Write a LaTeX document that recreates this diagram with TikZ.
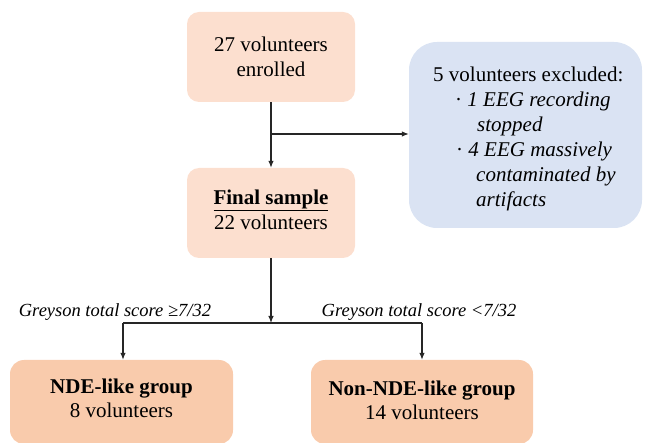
\documentclass[tikz,border=0pt]{standalone}
\usepackage{fontspec}
\setmainfont{Liberation Serif}
\usetikzlibrary{arrows.meta}
\definecolor{peachlight}{HTML}{FCDFCF}
\definecolor{peach}{HTML}{F9CBAC}
\definecolor{paleblue}{HTML}{DAE3F3}
\tikzset{
  x=1pt,y=-1pt,
  box/.style={fill=peachlight, draw=none, rounded corners=12pt, align=center, inner sep=0pt},
  groupbox/.style={fill=peach, draw=none, rounded corners=14pt, inner sep=0pt},
  exbox/.style={fill=paleblue, draw=none, rounded corners=28pt, inner sep=0pt},
  exline/.style={anchor=base west, inner sep=0pt, font=\fontsize{21}{25}\selectfont},
  grouptext/.style={inner sep=0pt, align=center, font=\fontsize{21}{24.5}\selectfont},
  conn/.style={draw=black!85, line width=1.1pt},
  arr/.style={conn, -{Latex[length=7pt,width=5.5pt]}},
  crit/.style={font=\fontsize{18.5}{22}\selectfont\itshape, inner sep=0pt}
}
\begin{document}
\begin{tikzpicture}
\useasboundingbox (0,0) rectangle (645,443);
% boxes
\node[box, minimum width=168pt, minimum height=90pt, font=\fontsize{21}{25}\selectfont] (enrol) at (271,57) {27 volunteers\\enrolled};
\node[box, minimum width=168pt, minimum height=90pt] (final) at (271,213) {};
\node[inner sep=0pt, align=center, font=\fontsize{21}{25}\selectfont] (finaltext) at (271,210) {\textbf{\underline{Final sample}}\\22 volunteers};
\node[exbox, minimum width=233pt, minimum height=186pt] (excl) at (525.5,135) {};
\node[groupbox, minimum width=223pt, minimum height=84pt] (nde) at (121.5,402) {};
\node[groupbox, minimum width=222pt, minimum height=84pt] (non) at (422,402) {};
\node[grouptext] (ndetext) at (121.5,398.5) {\textbf{NDE-like group}\\8 volunteers};
\node[grouptext] (nontext) at (422,400.5) {\textbf{Non-NDE-like group}\\14 volunteers};
% exclusion text
\node[exline] (ex1) at (433,82) {5 volunteers excluded:};
\node[exline] (ex2) at (455,107) {· \textit{1 EEG recording}};
\node[exline] (ex3) at (477,132) {\textit{stopped}};
\node[exline] (ex4) at (456,157) {· \textit{4 EEG massively}};
\node[exline] (ex5) at (476,182) {\textit{contaminated by}};
\node[exline] (ex6) at (476,207) {\textit{artifacts}};
% connectors
\coordinate (branch) at (enrol.south |- 0,134);
\coordinate (split) at (final.south |- 0,323);
\coordinate (lft) at (123,323);
\coordinate (rgt) at (non.north |- split);
\draw[arr] (enrol.south) -- (final.north);
\draw[arr] (branch) -- (excl.west |- branch);
\draw[arr] (final.south) -- (split);
\draw[conn] (lft) -- (rgt);
\draw[arr] (lft) -- (lft |- nde.north);
\draw[arr] (rgt) -- (non.north);
% criteria labels
\node[crit] (critl) at (115,312) {Greyson total score ≥7/32};
\node[crit] (critr) at (419,312) {Greyson total score <7/32};
\end{tikzpicture}
\end{document}
